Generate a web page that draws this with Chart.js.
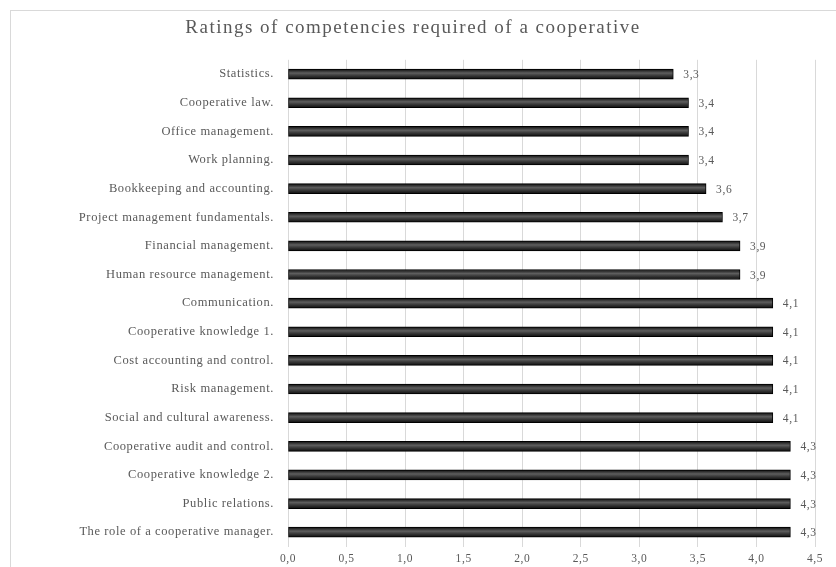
<!DOCTYPE html>
<html>
<head>
<meta charset="utf-8">
<script src="https://cdn.jsdelivr.net/npm/chart.js@4"></script>
<style>
  body { margin: 0; background: #fff; overflow: hidden; }
  #frame { position: absolute; left: 10px; top: 10px; width: 860px; height: 600px; border: 1px solid #d9d9d9; }
  #wrap { position: absolute; left: 0; top: 0; width: 826px; height: 557px; }
</style>
</head>
<body>
<div id="frame"><div id="wrap"><canvas id="chart"></canvas></div></div>
<script>
const categories = [
  "Statistics.",
  "Cooperative law.",
  "Office management.",
  "Work planning.",
  "Bookkeeping and accounting.",
  "Project management fundamentals.",
  "Financial management.",
  "Human resource management.",
  "Communication.",
  "Cooperative knowledge 1.",
  "Cost accounting and control.",
  "Risk management.",
  "Social and cultural awareness.",
  "Cooperative audit and control.",
  "Cooperative knowledge 2.",
  "Public relations.",
  "The role of a cooperative manager."
];
const ratings = [3.29, 3.42, 3.42, 3.42, 3.57, 3.71, 3.86, 3.86, 4.14, 4.14, 4.14, 4.14, 4.14, 4.29, 4.29, 4.29, 4.29];
const xTicks = [0, 0.5, 1, 1.5, 2, 2.5, 3, 3.5, 4, 4.5];

const fmt = v => v.toFixed(1).replace(".", ",");
const serif = "'Liberation Serif', 'DejaVu Serif', serif";

// bar fill: dark edges with lighter stripe through the middle
function barFill(context) {
  const chart = context.chart;
  const y = chart.scales.y;
  if (!y || !chart.chartArea || context.dataIndex === undefined) return "#333";
  const cy = y.getPixelForValue(context.dataIndex);
  if (!Number.isFinite(cy)) return "#333";
  const g = chart.ctx.createLinearGradient(0, cy - 5, 0, cy + 5);
  g.addColorStop(0, "#0d0d0d");
  g.addColorStop(0.4, "#5e5e5e");
  g.addColorStop(0.6, "#404040");
  g.addColorStop(1, "#0d0d0d");
  return g;
}

// the reference text is wide-set, so space the letters out a little
const spacing = {
  id: "spacing",
  beforeUpdate(chart) { chart.ctx.letterSpacing = "0.6px"; },
  beforeDraw(chart) {
    chart.ctx.letterSpacing = "0.6px";
    const tb = chart.titleBlock;
    if (tb && !tb._wide) {
      const draw = tb.draw.bind(tb);
      tb.draw = area => {
        chart.ctx.save();
        chart.ctx.letterSpacing = "1.5px";
        draw(area);
        chart.ctx.restore();
      };
      tb._wide = true;
    }
  }
};

const valueLabels = {
  id: "valueLabels",
  afterDatasetsDraw(chart) {
    const ctx = chart.ctx;
    const meta = chart.getDatasetMeta(0);
    ctx.save();
    ctx.font = "11.5px " + serif;
    ctx.fillStyle = "#595959";
    ctx.textAlign = "left";
    ctx.textBaseline = "middle";
    meta.data.forEach((bar, i) => {
      ctx.fillText(fmt(ratings[i]), bar.x + 10, bar.y + 1);
    });
    ctx.restore();
  }
};

new Chart(document.getElementById("chart"), {
  type: "bar",
  plugins: [spacing, valueLabels],
  data: {
    labels: categories,
    datasets: [{
      data: ratings,
      backgroundColor: barFill,
      borderColor: "#000",
      borderWidth: 1,
      borderSkipped: false,
      barThickness: 10
    }]
  },
  options: {
    indexAxis: "y",
    responsive: true,
    maintainAspectRatio: false,
    animation: false,
    layout: { padding: { top: 0, right: 22, bottom: 0, left: 0 } },
    plugins: {
      legend: { display: false },
      tooltip: { enabled: false },
      title: {
        display: true,
        text: "Ratings of competencies required of a cooperative",
        color: "#595959",
        font: { family: serif, size: 19, weight: "normal" },
        padding: { top: 6, bottom: 20 }
      }
    },
    scales: {
      x: {
        min: 0,
        max: 4.5,
        afterBuildTicks: axis => { axis.ticks = xTicks.map(v => ({ value: v })); },
        afterFit: axis => { axis.height = 20; },
        grid: { color: "#d9d9d9", drawTicks: false },
        border: { display: false },
        ticks: {
          padding: 6,
          color: "#595959",
          font: { family: serif, size: 11.5 },
          callback: v => fmt(v)
        }
      },
      y: {
        afterFit: axis => { axis.width = 277; },
        grid: { display: false, drawTicks: false },
        border: { display: false },
        ticks: {
          padding: 14,
          color: "#595959",
          font: { family: serif, size: 12.5 }
        }
      }
    }
  }
});
</script>
</body>
</html>
